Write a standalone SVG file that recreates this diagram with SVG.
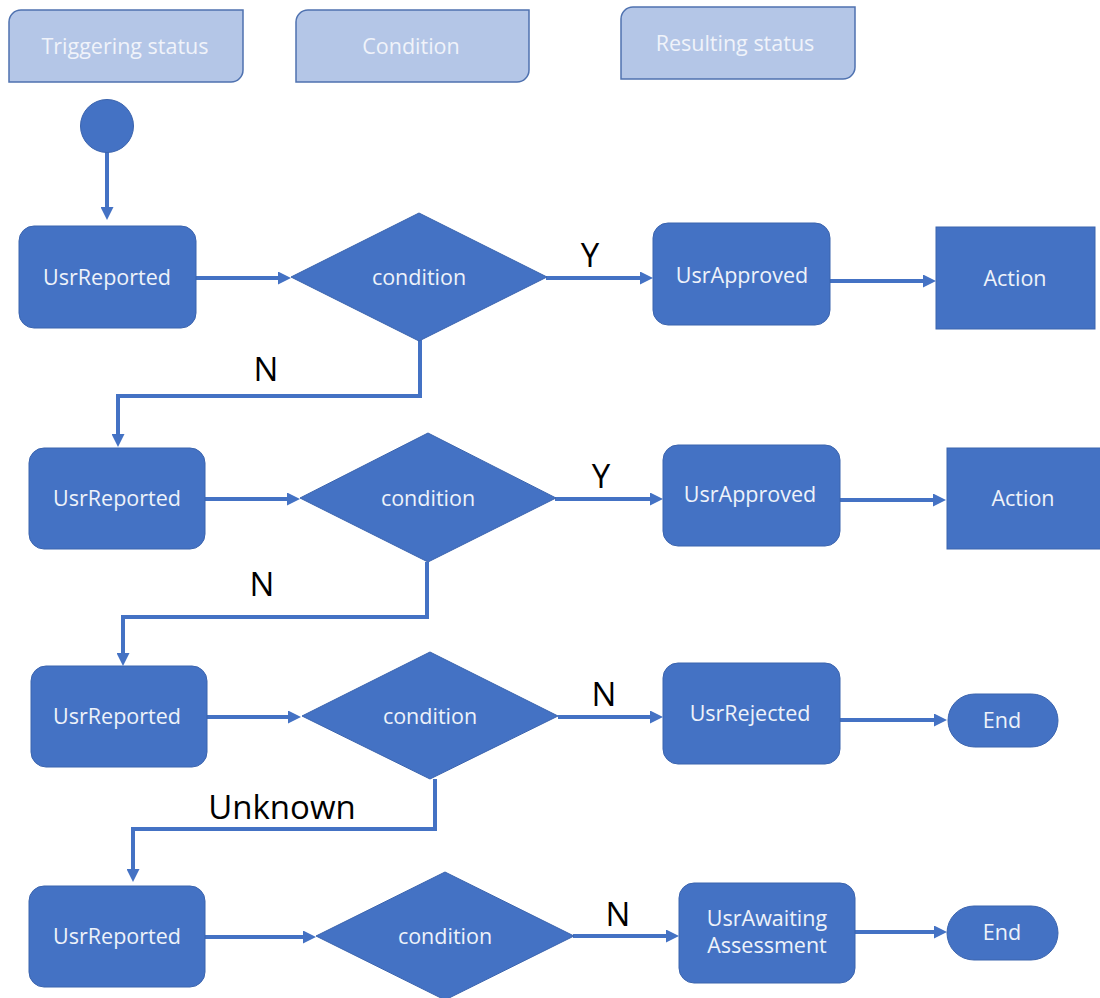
<svg xmlns="http://www.w3.org/2000/svg" width="1100" height="998" viewBox="0 0 1100 998">
  <style>
    .legend { fill: #B4C6E7; stroke: #4F72B0; stroke-width: 1.5; }
    .legend-text { font-family: "Open Sans", "Noto Sans", sans-serif; font-size: 21.5px; fill: #F0F3FA; text-anchor: middle; }
    .node { fill: #4472C4; stroke: #3B64AE; stroke-width: 1; }
    .node-text { font-family: "Open Sans", "Noto Sans", sans-serif; font-size: 21.5px; fill: #EEF2FA; text-anchor: middle; }
    .edge { fill: none; stroke: #4472C4; stroke-width: 4; marker-end: url(#arrow); }
    .label { font-family: "Open Sans", "Noto Sans", sans-serif; font-size: 33px; fill: #000000; text-anchor: middle; }
  </style>
  <defs>
    <marker id="arrow" markerUnits="userSpaceOnUse" markerWidth="13" markerHeight="13" viewBox="0 0 13 13" refX="5" refY="6.5" orient="auto">
      <path d="M0,0 L13,6.5 L0,13 Z" fill="#4472C4"/>
    </marker>
  </defs>

  <rect width="1100" height="998" fill="#FFFFFF"/>

  <!-- legend -->
  <g id="legend-triggering">
    <path class="legend" d="M21,10 H243 V70 A12,12 0 0 1 231,82 H9 V22 A12,12 0 0 1 21,10 Z"/>
    <text class="legend-text" x="125" y="54">Triggering status</text>
  </g>
  <g id="legend-condition">
    <path class="legend" d="M308,10 H529 V70 A12,12 0 0 1 517,82 H296 V22 A12,12 0 0 1 308,10 Z"/>
    <text class="legend-text" x="411" y="54">Condition</text>
  </g>
  <g id="legend-resulting">
    <path class="legend" d="M633,7 H855 V67 A12,12 0 0 1 843,79 H621 V19 A12,12 0 0 1 633,7 Z"/>
    <text class="legend-text" x="735" y="51">Resulting status</text>
  </g>

  <!-- connectors -->
  <g id="connectors">
    <path class="edge" d="M107,152 V212"/>
    <!-- row 1 -->
    <path class="edge" d="M196,278 H283"/>
    <path class="edge" d="M546,278 H645"/>
    <path class="edge" d="M830,281 H928"/>
    <path class="edge" d="M420,340 V396 H118 V439"/>
    <!-- row 2 -->
    <path class="edge" d="M205,499 H292"/>
    <path class="edge" d="M555,499 H655"/>
    <path class="edge" d="M840,500 H938"/>
    <path class="edge" d="M427,562 V617 H123 V658"/>
    <!-- row 3 -->
    <path class="edge" d="M207,717 H293"/>
    <path class="edge" d="M558,717 H655"/>
    <path class="edge" d="M840,720 H939"/>
    <path class="edge" d="M435,779 V829 H133 V874"/>
    <!-- row 4 -->
    <path class="edge" d="M205,937 H308"/>
    <path class="edge" d="M573,936 H671"/>
    <path class="edge" d="M855,932 H939"/>

    <text class="label" x="590" y="267">Y</text>
    <text class="label" x="266" y="381">N</text>
    <text class="label" x="601" y="488">Y</text>
    <text class="label" x="262" y="596">N</text>
    <text class="label" x="604" y="706">N</text>
    <text class="label" x="282" y="819">Unknown</text>
    <text class="label" x="618" y="926">N</text>
  </g>

  <!-- start -->
  <g id="start">
    <circle class="node" cx="107" cy="126" r="26.5"/>
  </g>

  <!-- row 1 -->
  <g id="reported-1">
    <rect class="node" x="19" y="226" width="177" height="102" rx="15"/>
    <text class="node-text" x="107" y="285">UsrReported</text>
  </g>
  <g id="condition-1">
    <polygon class="node" points="291,277 419,213 547,277 419,341"/>
    <text class="node-text" x="419" y="285">condition</text>
  </g>
  <g id="approved-1">
    <rect class="node" x="653" y="223" width="177" height="102" rx="15"/>
    <text class="node-text" x="742" y="283">UsrApproved</text>
  </g>
  <g id="action-1">
    <rect class="node" x="936" y="227" width="159" height="102"/>
    <text class="node-text" x="1015" y="286">Action</text>
  </g>

  <!-- row 2 -->
  <g id="reported-2">
    <rect class="node" x="29" y="448" width="176" height="101" rx="15"/>
    <text class="node-text" x="117" y="506">UsrReported</text>
  </g>
  <g id="condition-2">
    <polygon class="node" points="300,498 428,433 556,498 428,562"/>
    <text class="node-text" x="428" y="506">condition</text>
  </g>
  <g id="approved-2">
    <rect class="node" x="663" y="445" width="177" height="101" rx="15"/>
    <text class="node-text" x="750" y="502">UsrApproved</text>
  </g>
  <g id="action-2">
    <rect class="node" x="947" y="448" width="157" height="101"/>
    <text class="node-text" x="1023" y="506">Action</text>
  </g>

  <!-- row 3 -->
  <g id="reported-3">
    <rect class="node" x="31" y="666" width="176" height="101" rx="15"/>
    <text class="node-text" x="117" y="724">UsrReported</text>
  </g>
  <g id="condition-3">
    <polygon class="node" points="302,716 430,652 558,716 430,779"/>
    <text class="node-text" x="430" y="724">condition</text>
  </g>
  <g id="rejected">
    <rect class="node" x="663" y="663" width="177" height="101" rx="15"/>
    <text class="node-text" x="750" y="721">UsrRejected</text>
  </g>
  <g id="end-1">
    <rect class="node" x="948" y="694" width="110" height="53" rx="26.5"/>
    <text class="node-text" x="1002" y="728">End</text>
  </g>

  <!-- row 4 -->
  <g id="reported-4">
    <rect class="node" x="29" y="886" width="176" height="101" rx="15"/>
    <text class="node-text" x="117" y="944">UsrReported</text>
  </g>
  <g id="condition-4">
    <polygon class="node" points="316,936 445,872 574,936 445,1000"/>
    <text class="node-text" x="445" y="944">condition</text>
  </g>
  <g id="awaiting">
    <rect class="node" x="679" y="883" width="176" height="100" rx="15"/>
    <text class="node-text" x="767" y="926">UsrAwaiting</text>
    <text class="node-text" x="767" y="953">Assessment</text>
  </g>
  <g id="end-2">
    <rect class="node" x="947" y="906" width="111" height="54" rx="27"/>
    <text class="node-text" x="1002" y="940">End</text>
  </g>
</svg>
